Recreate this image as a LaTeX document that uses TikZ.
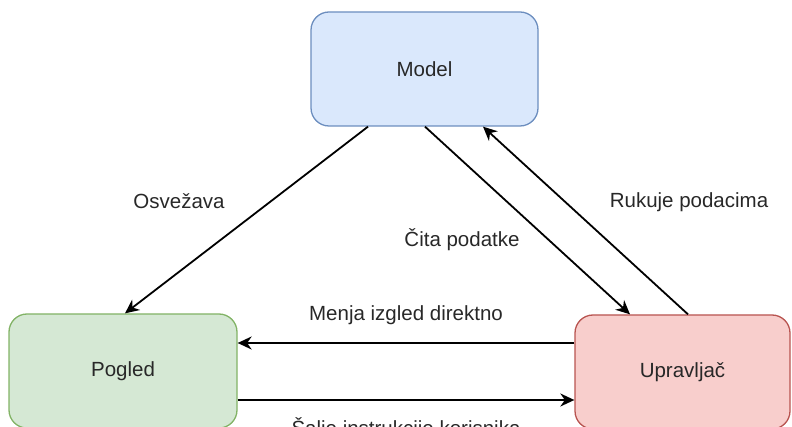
\documentclass[tikz,border=0pt]{standalone}
\usepackage{fontspec}
\setmainfont{Liberation Sans}
\usetikzlibrary{arrows.meta}
\definecolor{mfill}{HTML}{DAE8FC}\definecolor{mdraw}{HTML}{6C8EBF}
\definecolor{pfill}{HTML}{D5E8D4}\definecolor{pdraw}{HTML}{82B366}
\definecolor{ufill}{HTML}{F8CECC}\definecolor{udraw}{HTML}{B85450}
\definecolor{txt}{HTML}{282828}
\tikzset{
  box/.style={rectangle, rounded corners=18pt, line width=1.3pt, minimum height=114pt, inner sep=0pt, text=txt, font=\fontsize{20.5}{24}\selectfont},
  conn/.style={line width=1.8pt, -{Stealth[length=14pt,width=13pt,inset=4.5pt]}},
  lbl/.style={text=txt, font=\fontsize{20.5}{24}\selectfont, inner sep=0pt}
}
\begin{document}
\begin{tikzpicture}[x=1pt,y=-1pt]
\useasboundingbox (0,0) rectangle (792,427);
\clip (0,0) rectangle (792,427);
\node[box, fill=mfill, draw=mdraw, minimum width=227pt] (model) at (424.5,69) {Model};
\node[box, fill=pfill, draw=pdraw, minimum width=228pt] (pogled) at (123,371) {Pogled};
\node[box, fill=ufill, draw=udraw, minimum width=215pt] (upr) at (682.5,372) {Upravljač};
\draw[conn] ([xshift=-56.5pt]model.south) -- ([xshift=2pt]pogled.north);
\draw[conn] ([xshift=0.5pt]model.south) -- ([xshift=-52.5pt]upr.north);
\draw[conn] ([xshift=5.5pt]upr.north) -- ([xshift=58.5pt]model.south);
\draw[conn] ([yshift=29pt]upr.west) -- ([yshift=28pt]pogled.east);
\draw[conn] ([yshift=-29pt]pogled.east) -- ([yshift=-28pt]upr.west);
\node[lbl] (l1) at (179,201) {Osvežava};
\node[lbl] (l2) at (462,240) {Čita podatke};
\node[lbl] (l3) at (689,202) {Rukuje podacima};
\node[lbl] (l4) at (406,315) {Menja izgled direktno};
\node[lbl] (l5) at (406,429) {Šalje instrukcije korisnika};
\end{tikzpicture}
\end{document}
